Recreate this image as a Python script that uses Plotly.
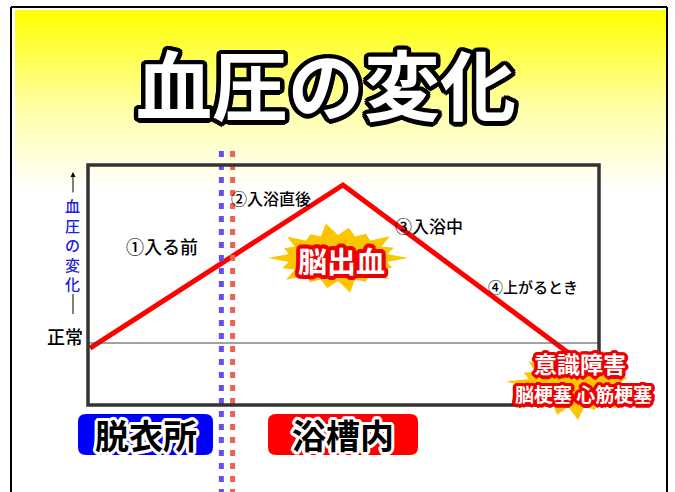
import math
import plotly.graph_objects as go

# ---------------- data ----------------
stages = ["①入る前", "②入浴直後", "③入浴中", "④上がるとき"]
places = ["脱衣所", "浴槽内"]
bp_time = [0.4, 49.9, 94.3]        # position along the bathing timeline (% of panel width)
bp_change = [-3.2, 100.0, -7.0]    # blood pressure change (normal = 0, peak = 100)
boundary_undress = 26.1            # end of changing-room phase
boundary_bath = 28.3               # entering the bathtub
risk_peak = ["脳出血"]
risk_end = ["意識障害", "脳梗塞 心筋梗塞"]
normal_label = "正常"
y_label = "血圧の変化"
title_text = "血圧の変化"

# ---------------- geometry (pixels) ----------------
W, H = 675, 492
BOX_L, BOX_T, BOX_R, BOX_B = 88, 165, 599, 405
ZERO_PX, PEAK_PX = 343, 185
sx = (BOX_R - BOX_L) / 100.0
sy = (ZERO_PX - PEAK_PX) / max(bp_change)


def X(px):
    return (px - BOX_L) / sx


def Y(py):
    return (ZERO_PX - py) / sy


x_range = [X(0), X(W)]
y_range = [Y(H), Y(0)]

FONT = "Noto Sans CJK JP"


def outline(color, r, n=16):
    parts = []
    for rr in (r, r * 0.5):
        for k in range(n):
            a = 2 * math.pi * k / n
            parts.append(f"{rr*math.cos(a):.2f}px {rr*math.sin(a):.2f}px 0 {color}")
    return ", ".join(parts)


def star_path(cx, cy, rxo, ryo, rxi, ryi, n, offset=0.0):
    mult = [1.0, 0.82, 0.95, 0.78, 1.0, 0.88, 0.8, 0.97, 0.85]
    pts = []
    for k in range(2 * n):
        a = offset + math.pi * k / n
        if k % 2 == 0:
            m = mult[(k // 2) % len(mult)]
            r = (rxo * m, ryo * m)
        else:
            r = (rxi, ryi)
        px = cx + r[0] * math.cos(a)
        py = cy + r[1] * math.sin(a)
        pts.append((X(px), Y(py)))
    d = "M " + " L ".join(f"{x:.3f},{y:.3f}" for x, y in pts) + " Z"
    return d


def rounded_rect(x0, y0, x1, y1, r):
    P = lambda px, py: f"{X(px):.3f},{Y(py):.3f}"
    return (f"M {P(x0 + r, y0)} L {P(x1 - r, y0)} Q {P(x1, y0)} {P(x1, y0 + r)} "
            f"L {P(x1, y1 - r)} Q {P(x1, y1)} {P(x1 - r, y1)} "
            f"L {P(x0 + r, y1)} Q {P(x0, y1)} {P(x0, y1 - r)} "
            f"L {P(x0, y0 + r)} Q {P(x0, y0)} {P(x0 + r, y0)} Z")


fig = go.Figure()

# background gradient
fig.add_trace(go.Scatter(
    x=[X(15), X(666), X(666), X(15), X(15)],
    y=[Y(10), Y(10), Y(190), Y(190), Y(10)],
    mode="lines", fill="toself", line=dict(width=0),
    fillgradient=dict(type="vertical",
                      colorscale=[[0, "#ffffff"], [0.45, "#ffffa8"], [1, "#ffff00"]],
                      start=Y(190), stop=Y(10)),
    hoverinfo="skip", showlegend=False))

# blood pressure line
fig.add_trace(go.Scatter(x=bp_time, y=bp_change, mode="lines",
                         line=dict(color="#ff0000", width=5),
                         hoverinfo="skip", showlegend=False))

shapes = []
# outer frame
for (x0, y0, x1, y1) in [(11, 7, 11, H), (11, 7, 667, 7), (667, 7, 667, H)]:
    shapes.append(dict(type="line", xref="x", yref="y", x0=X(x0), y0=Y(y0), x1=X(x1), y1=Y(y1),
                       line=dict(color="black", width=2), layer="above"))
# normal line
shapes.append(dict(type="line", xref="x", yref="y", x0=0, x1=100, y0=0, y1=0,
                   line=dict(color="#444444", width=1), layer="above"))
# dotted boundaries
shapes.append(dict(type="line", xref="x", yref="y", x0=boundary_undress, x1=boundary_undress,
                   y0=Y(151), y1=Y(H), line=dict(color="#6450f0", width=5, dash="6px,7px"), layer="above"))
shapes.append(dict(type="line", xref="x", yref="y", x0=boundary_bath, x1=boundary_bath,
                   y0=Y(151), y1=Y(H), line=dict(color="#eb6450", width=5, dash="6px,7px"), layer="above"))
# panel box
shapes.append(dict(type="rect", xref="x", yref="y", x0=0, x1=100, y0=Y(BOX_B), y1=Y(BOX_T),
                   line=dict(color="#333333", width=3.5), fillcolor="rgba(0,0,0,0)", layer="above"))
# y-label arrow lower segment
shapes.append(dict(type="line", xref="x", yref="y", x0=X(73), x1=X(73), y0=Y(294), y1=Y(314),
                   line=dict(color="black", width=1), layer="above"))
# stars
shapes.append(dict(type="path", xref="x", yref="y",
                   path=star_path(338, 258, 70, 35, 50, 23, 18, 0.0),
                   fillcolor="#fbc600", line=dict(width=0), layer="above"))
shapes.append(dict(type="path", xref="x", yref="y",
                   path=star_path(573, 385, 67, 35, 46, 22, 18, 0.1),
                   fillcolor="#fbc600", line=dict(width=0), layer="above"))
# place label boxes
shapes.append(dict(type="path", xref="x", yref="y", path=rounded_rect(78, 414, 213, 455, 8),
                   fillcolor="#0000ff", line=dict(width=0), layer="above"))
shapes.append(dict(type="path", xref="x", yref="y", path=rounded_rect(268, 414, 418, 455, 8),
                   fillcolor="#ff0000", line=dict(width=0), layer="above"))

ann = []


def text(t, px, py, size, color="black", weight="normal", shadow=None):
    f = dict(family=FONT, size=size, color=color, weight=weight)
    if shadow:
        f["shadow"] = shadow
    ann.append(dict(text=t, x=X(px), y=Y(py), xref="x", yref="y", showarrow=False,
                    xanchor="center", yanchor="middle", font=f))


# title
text(title_text, 326, 82, 76, "white", "bold", outline("black", 4.5))
# stage labels
stage_pos = [(162, 246, 18), (271, 198, 16), (429, 225, 17), (533, 286, 15)]
for s, (px, py, fs) in zip(stages, stage_pos):
    text(s, px, py, fs, "black", 500)
# normal label
text(normal_label, 65, 336, 18, "black", 500)
# vertical y label (one character per line)
text("<br>".join(y_label), 72.5, 244, 15, "#2020e0", 500)
ann.append(dict(text="", x=X(73), y=Y(172), ax=X(73), ay=Y(194), xref="x", yref="y",
                axref="x", ayref="y", showarrow=True, arrowhead=2, arrowsize=1,
                arrowwidth=1, arrowcolor="black", standoff=0))
# risk labels
text(risk_peak[0], 341, 260, 29, "white", "bold", outline("#ee0000", 4))
text(risk_end[0], 580, 363, 23, "white", "bold", outline("#ee0000", 3.5))
text(risk_end[1], 583, 393, 19, "white", "bold", outline("#ee0000", 3.5))
# places
text(places[0], 146, 434, 34, "black", "bold", outline("white", 3))
text(places[1], 343, 434, 34, "black", "bold", outline("white", 3))

fig.update_layout(
    width=W, height=H, margin=dict(l=0, r=0, t=0, b=0),
    paper_bgcolor="white", plot_bgcolor="white", showlegend=False,
    xaxis=dict(range=x_range, visible=False, fixedrange=True),
    yaxis=dict(range=y_range, visible=False, fixedrange=True),
    shapes=shapes, annotations=ann,
)

fig.write_html("out.html", config={"displayModeBar": False})
